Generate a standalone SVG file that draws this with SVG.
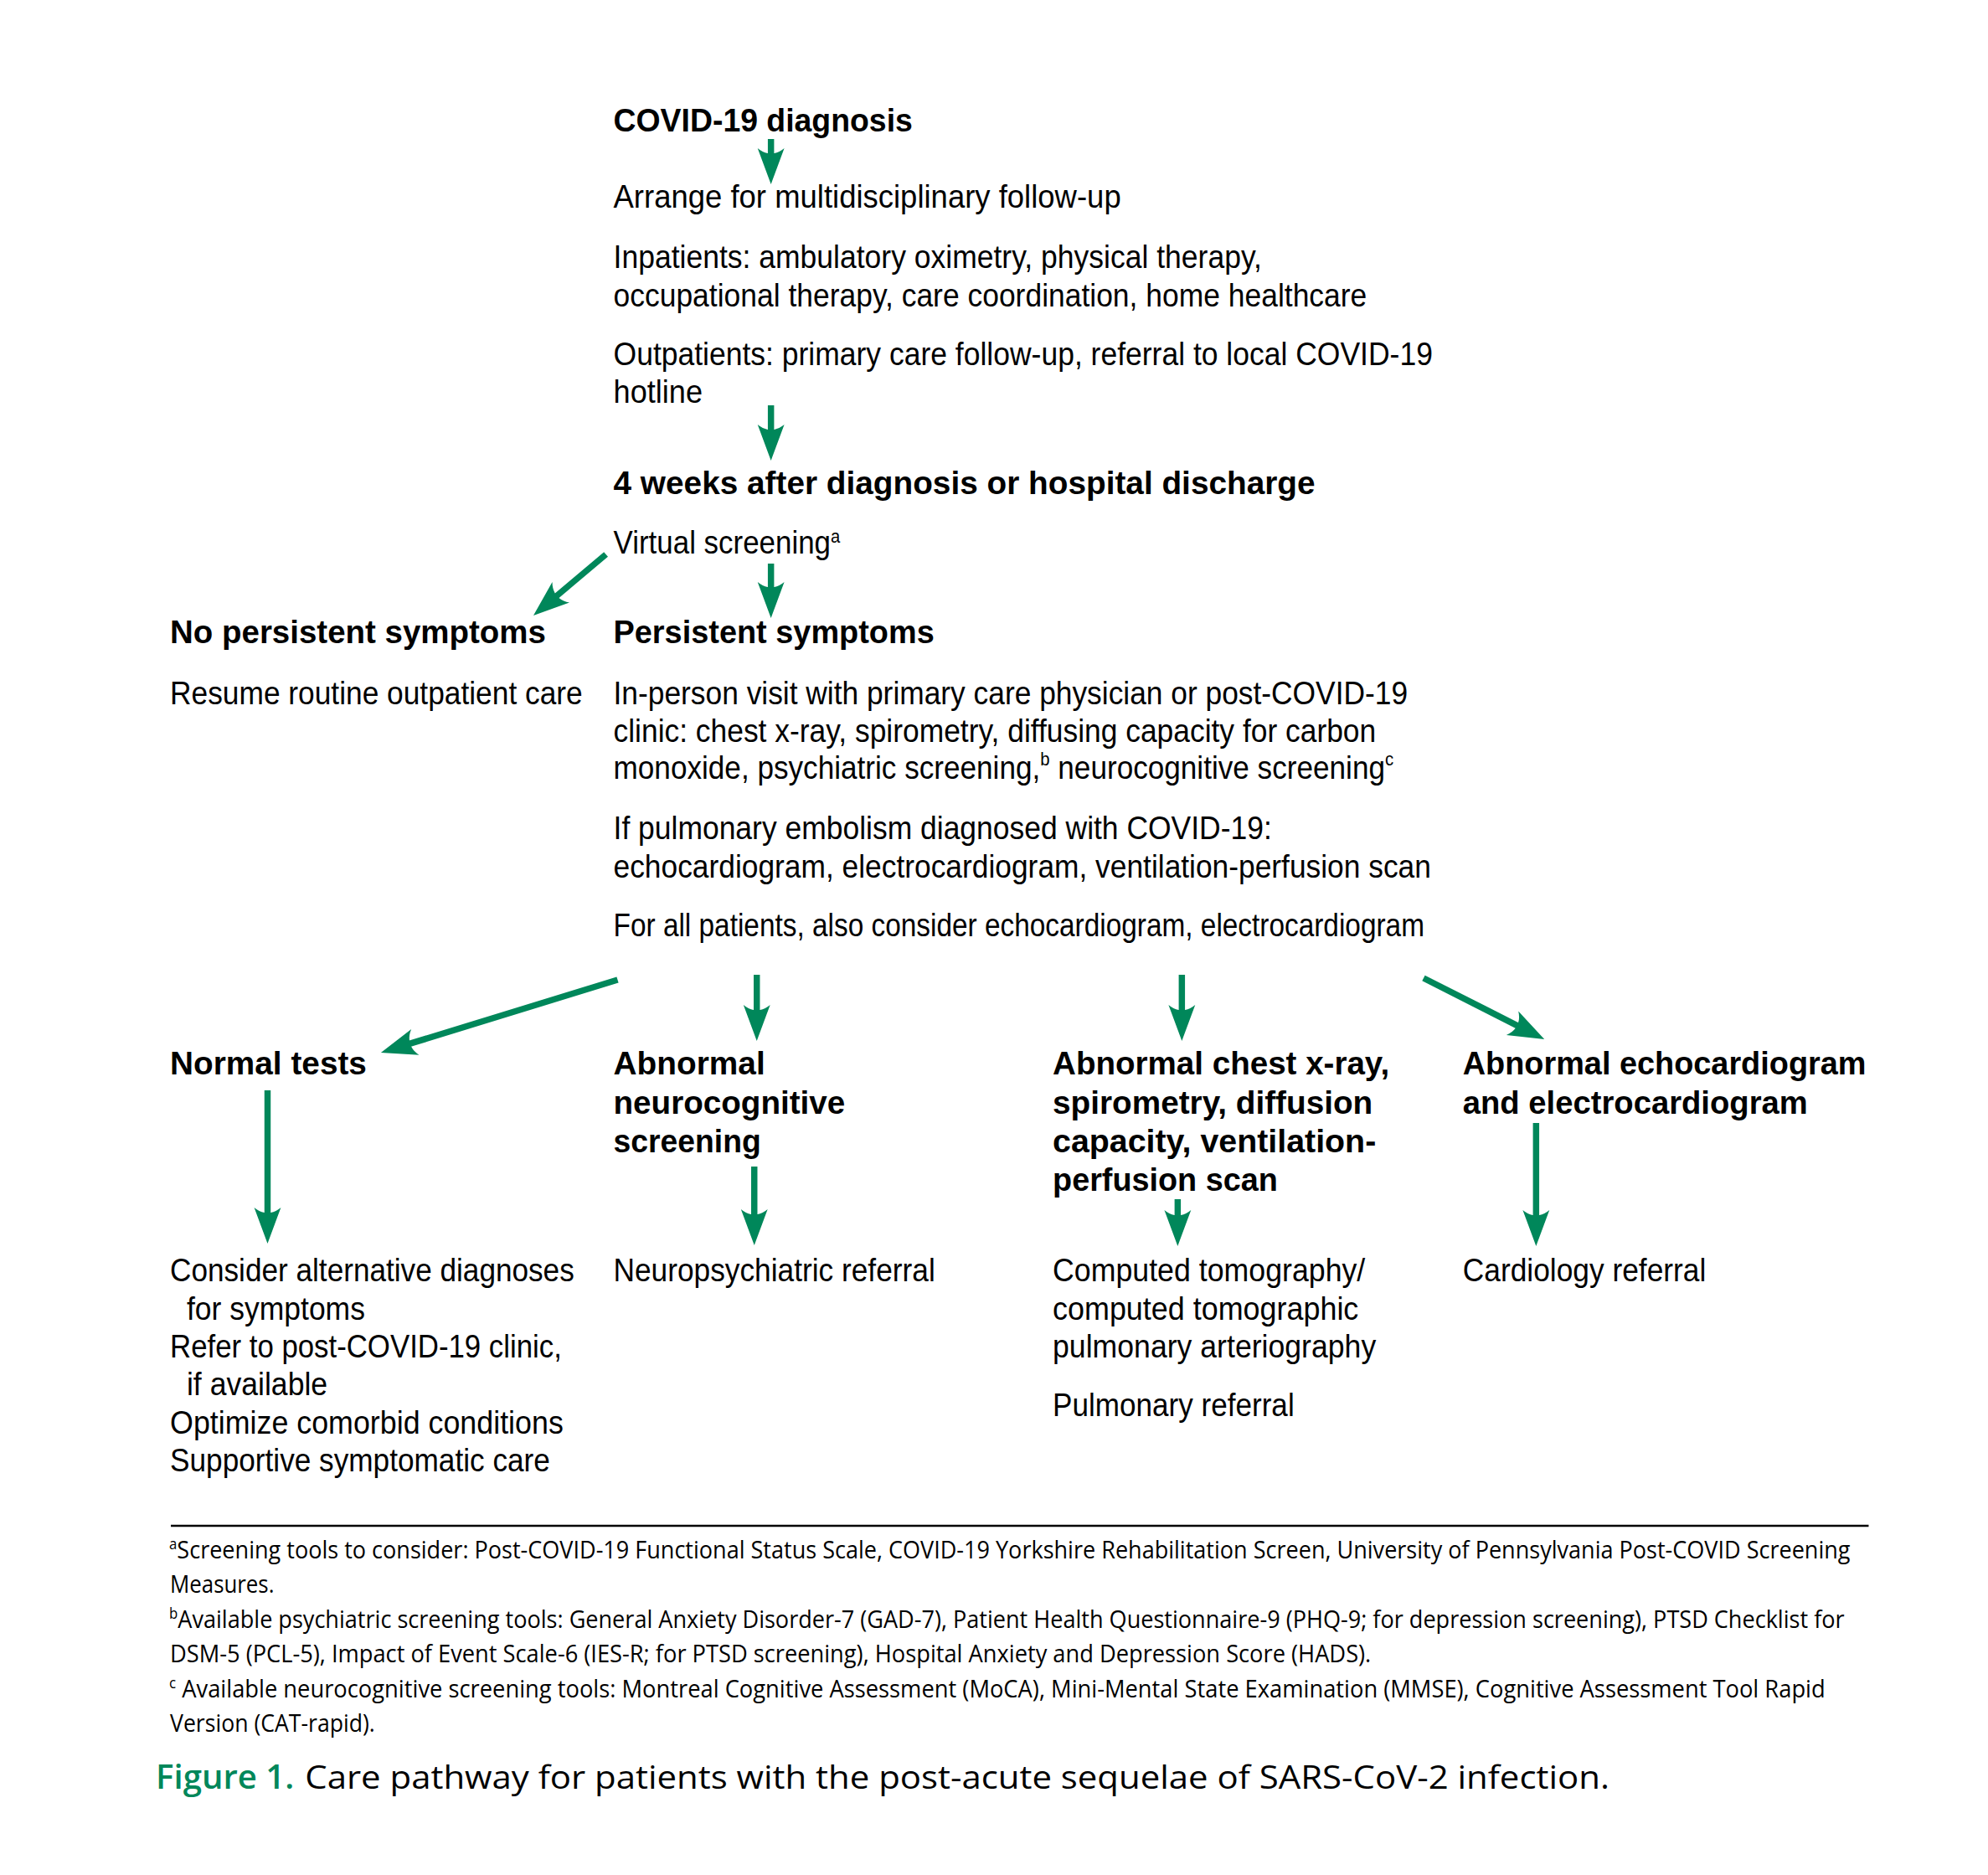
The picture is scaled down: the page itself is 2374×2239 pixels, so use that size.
<svg xmlns="http://www.w3.org/2000/svg" width="2374" height="2239" viewBox="0 0 2374 2239">
<style>
.t{font-family:"Liberation Sans Narrow","Liberation Sans",Arial,sans-serif;font-size:38px;fill:#000}
.b{font-family:"Liberation Sans Narrow","Liberation Sans",Arial,sans-serif;font-size:38px;font-weight:bold;fill:#000}
.s{font-size:22px}
.f{font-family:"Open Sans","Liberation Sans",Arial,sans-serif;font-size:29px;fill:#000}
.fs{font-size:18px}
.c{font-family:"Open Sans","Liberation Sans",Arial,sans-serif;font-size:39px;fill:#000}
.cg{font-family:"Open Sans","Liberation Sans",Arial,sans-serif;font-size:39px;font-weight:600;fill:#00875A}
.arr{stroke:#00875A;stroke-width:7.5;fill:none;marker-end:url(#ah)}
</style>
<defs>
<marker id="ah" markerUnits="userSpaceOnUse" markerWidth="60" markerHeight="40" refX="10" refY="20" orient="auto" overflow="visible">
<path d="M45,20 L2,4 Q7,10 8,16 L8,24 Q7,30 2,36 Z" fill="#00875A"/>
</marker>
</defs>
<rect width="2374" height="2239" fill="#fff"/>
<g transform="matrix(0.9953 0 0 1 0 0)">
<g id="connectors">
<line class="arr" x1="925" y1="166" x2="925" y2="185"/>
<line class="arr" x1="925" y1="484" x2="925" y2="515"/>
<line class="arr" x1="925" y1="673" x2="925" y2="703"/>
<line class="arr" x1="727" y1="662" x2="666.8" y2="712.5"/>
<line class="arr" x1="741" y1="1170" x2="490.5" y2="1246.7"/>
<line class="arr" x1="908" y1="1164" x2="908" y2="1208"/>
<line class="arr" x1="1418" y1="1164" x2="1418" y2="1208"/>
<line class="arr" x1="1708" y1="1168" x2="1821.7" y2="1225.3"/>
<line class="arr" x1="321" y1="1302" x2="321" y2="1450"/>
<line class="arr" x1="905" y1="1393" x2="905" y2="1452"/>
<line class="arr" x1="1413" y1="1432" x2="1413" y2="1453"/>
<line class="arr" x1="1843" y1="1341" x2="1843" y2="1453"/>
</g>
<g id="n-diagnosis">
<text class="b" x="736" y="157" textLength="359" lengthAdjust="spacingAndGlyphs">COVID-19 diagnosis</text>
</g>
<g id="n-followup">
<text class="t" x="736" y="248" textLength="609" lengthAdjust="spacingAndGlyphs">Arrange for multidisciplinary follow-up</text>
<text class="t" x="736" y="320" textLength="778" lengthAdjust="spacingAndGlyphs">Inpatients: ambulatory oximetry, physical therapy,</text>
<text class="t" x="736" y="366" textLength="904" lengthAdjust="spacingAndGlyphs">occupational therapy, care coordination, home healthcare</text>
<text class="t" x="736" y="436" textLength="983" lengthAdjust="spacingAndGlyphs">Outpatients: primary care follow-up, referral to local COVID-19</text>
<text class="t" x="736" y="481" textLength="107" lengthAdjust="spacingAndGlyphs">hotline</text>
</g>
<g id="n-4weeks">
<text class="b" x="736" y="590" textLength="842" lengthAdjust="spacingAndGlyphs">4 weeks after diagnosis or hospital discharge</text>
<text class="t" x="736" y="661" textLength="272" lengthAdjust="spacingAndGlyphs">Virtual screening<tspan class="s" dy="-13">a</tspan></text>
</g>
<g id="n-nopersistent">
<text class="b" x="204" y="768" textLength="451" lengthAdjust="spacingAndGlyphs">No persistent symptoms</text>
<text class="t" x="204" y="841" textLength="495" lengthAdjust="spacingAndGlyphs">Resume routine outpatient care</text>
</g>
<g id="n-persistent">
<text class="b" x="736" y="768" textLength="385" lengthAdjust="spacingAndGlyphs">Persistent symptoms</text>
<text class="t" x="736" y="841" textLength="953" lengthAdjust="spacingAndGlyphs">In-person visit with primary care physician or post-COVID-19</text>
<text class="t" x="736" y="886" textLength="915" lengthAdjust="spacingAndGlyphs">clinic: chest x-ray, spirometry, diffusing capacity for carbon</text>
<text class="t" x="736" y="930" textLength="936" lengthAdjust="spacingAndGlyphs">monoxide, psychiatric screening,<tspan class="s" dy="-16">b</tspan><tspan dy="16"> neurocognitive screening</tspan><tspan class="s" dy="-16">c</tspan></text>
<text class="t" x="736" y="1002" textLength="790" lengthAdjust="spacingAndGlyphs">If pulmonary embolism diagnosed with COVID-19:</text>
<text class="t" x="736" y="1048" textLength="981" lengthAdjust="spacingAndGlyphs">echocardiogram, electrocardiogram, ventilation-perfusion scan</text>
<text class="t" x="736" y="1118" textLength="973" lengthAdjust="spacingAndGlyphs">For all patients, also consider echocardiogram, electrocardiogram</text>
</g>
<g id="n-normal">
<text class="b" x="204" y="1283" textLength="236" lengthAdjust="spacingAndGlyphs">Normal tests</text>
</g>
<g id="n-neuro">
<text class="b" x="736" y="1283" textLength="182" lengthAdjust="spacingAndGlyphs">Abnormal</text>
<text class="b" x="736" y="1330" textLength="278" lengthAdjust="spacingAndGlyphs">neurocognitive</text>
<text class="b" x="736" y="1376" textLength="177" lengthAdjust="spacingAndGlyphs">screening</text>
</g>
<g id="n-chest">
<text class="b" x="1263" y="1283" textLength="404" lengthAdjust="spacingAndGlyphs">Abnormal chest x-ray,</text>
<text class="b" x="1263" y="1330" textLength="384" lengthAdjust="spacingAndGlyphs">spirometry, diffusion</text>
<text class="b" x="1263" y="1376" textLength="388" lengthAdjust="spacingAndGlyphs">capacity, ventilation-</text>
<text class="b" x="1263" y="1422" textLength="270" lengthAdjust="spacingAndGlyphs">perfusion scan</text>
</g>
<g id="n-echo">
<text class="b" x="1755" y="1283" textLength="484" lengthAdjust="spacingAndGlyphs">Abnormal echocardiogram</text>
<text class="b" x="1755" y="1330" textLength="414" lengthAdjust="spacingAndGlyphs">and electrocardiogram</text>
</g>
<g id="n-normal-actions">
<text class="t" x="204" y="1530" textLength="485" lengthAdjust="spacingAndGlyphs">Consider alternative diagnoses</text>
<text class="t" x="224" y="1576" textLength="214" lengthAdjust="spacingAndGlyphs">for symptoms</text>
<text class="t" x="204" y="1621" textLength="470" lengthAdjust="spacingAndGlyphs">Refer to post-COVID-19 clinic,</text>
<text class="t" x="224" y="1666" textLength="169" lengthAdjust="spacingAndGlyphs">if available</text>
<text class="t" x="204" y="1712" textLength="472" lengthAdjust="spacingAndGlyphs">Optimize comorbid conditions</text>
<text class="t" x="204" y="1757" textLength="456" lengthAdjust="spacingAndGlyphs">Supportive symptomatic care</text>
</g>
<g id="n-neuro-referral">
<text class="t" x="736" y="1530" textLength="386" lengthAdjust="spacingAndGlyphs">Neuropsychiatric referral</text>
</g>
<g id="n-ct">
<text class="t" x="1263" y="1530" textLength="375" lengthAdjust="spacingAndGlyphs">Computed tomography/</text>
<text class="t" x="1263" y="1576" textLength="367" lengthAdjust="spacingAndGlyphs">computed tomographic</text>
<text class="t" x="1263" y="1621" textLength="388" lengthAdjust="spacingAndGlyphs">pulmonary arteriography</text>
<text class="t" x="1263" y="1691" textLength="290" lengthAdjust="spacingAndGlyphs">Pulmonary referral</text>
</g>
<g id="n-cardio">
<text class="t" x="1755" y="1530" textLength="292" lengthAdjust="spacingAndGlyphs">Cardiology referral</text>
</g>
<g id="footnotes">
<line x1="205" y1="1822" x2="2242" y2="1822" stroke="#000" stroke-width="2.5"/>
<text class="f" x="203" y="1861" textLength="2017" lengthAdjust="spacingAndGlyphs"><tspan class="fs" dy="-11">a</tspan><tspan dy="11">Screening tools to consider: Post-COVID-19 Functional Status Scale, COVID-19 Yorkshire Rehabilitation Screen, University of Pennsylvania Post-COVID Screening</tspan></text>
<text class="f" x="204" y="1902" textLength="125" lengthAdjust="spacingAndGlyphs">Measures.</text>
<text class="f" x="203" y="1944" textLength="2010" lengthAdjust="spacingAndGlyphs"><tspan class="fs" dy="-11">b</tspan><tspan dy="11">Available psychiatric screening tools: General Anxiety Disorder-7 (GAD-7), Patient Health Questionnaire-9 (PHQ-9; for depression screening), PTSD Checklist for</tspan></text>
<text class="f" x="204" y="1985" textLength="1441" lengthAdjust="spacingAndGlyphs">DSM-5 (PCL-5), Impact of Event Scale-6 (IES-R; for PTSD screening), Hospital Anxiety and Depression Score (HADS).</text>
<text class="f" x="203" y="2027" textLength="1987" lengthAdjust="spacingAndGlyphs"><tspan class="fs" dy="-11">c</tspan><tspan dy="11"> Available neurocognitive screening tools: Montreal Cognitive Assessment (MoCA), Mini-Mental State Examination (MMSE), Cognitive Assessment Tool Rapid</tspan></text>
<text class="f" x="204" y="2068" textLength="246" lengthAdjust="spacingAndGlyphs">Version (CAT-rapid).</text>
</g>
<g id="caption">
<text class="cg" x="187" y="2136" textLength="166" lengthAdjust="spacingAndGlyphs">Figure 1.</text>
<text class="c" x="366" y="2136" textLength="1565" lengthAdjust="spacingAndGlyphs">Care pathway for patients with the post-acute sequelae of SARS-CoV-2 infection.</text>
</g>
</g>
</svg>
